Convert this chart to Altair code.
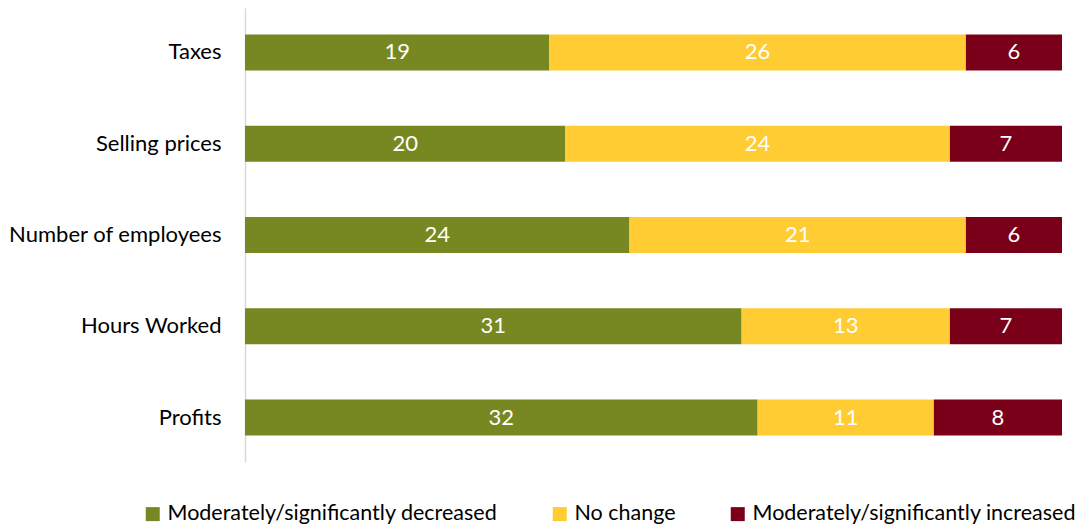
import altair as alt
import pandas as pd

categories = ["Taxes", "Selling prices", "Number of employees", "Hours Worked", "Profits"]
series = ["Moderately/significantly decreased", "No change", "Moderately/significantly increased"]
decreased = [19, 20, 24, 31, 32]
no_change = [26, 24, 21, 13, 11]
increased = [6, 7, 6, 7, 8]
colors = ["#778822", "#FFCC33", "#7A001A"]

rows = []
for i, c in enumerate(categories):
    for j, (s, vals) in enumerate(zip(series, [decreased, no_change, increased])):
        rows.append({"category": c, "series": s, "value": vals[i], "order": j})
df = pd.DataFrame(rows)

FONT = "Lato"
FS = 22

base = alt.Chart(df).transform_stack(
    stack="value", groupby=["category"], sort=[alt.SortField("order")], as_=["x0", "x1"]
).transform_calculate(mid="(datum.x0 + datum.x1) / 2")

yenc = alt.Y(
    "category:N",
    sort=categories,
    title=None,
    scale=alt.Scale(paddingInner=0.605, paddingOuter=0.29),
    axis=alt.Axis(
        ticks=False,
        labelPadding=24,
        labelFontSize=FS,
        labelFont=FONT,
        labelColor="#000000",
        domainColor="#d9d9d9",
        domainWidth=1.5,
        grid=False,
        labelLimit=400,
    ),
)

xscale = alt.Scale(domain=[0, 51], nice=False, zero=True)

bars = base.mark_bar().encode(
    x=alt.X("x0:Q", scale=xscale, axis=None),
    x2="x1:Q",
    y=yenc,
    color=alt.Color(
        "series:N",
        scale=alt.Scale(domain=series, range=colors),
        legend=alt.Legend(
            title=None,
            orient="none",
            direction="horizontal",
            legendX=-103,
            legendY=495,
            symbolType="square",
            symbolSize=196,
            symbolStrokeWidth=0,
            labelFontSize=21.5,
            labelFont=FONT,
            labelColor="#000000",
            columnPadding=51,
            labelOffset=4,
            labelLimit=500,
        ),
    ),
)

labels = base.mark_text(color="white", fontSize=FS, font=FONT).encode(
    x=alt.X("mid:Q", scale=xscale, axis=None),
    y=alt.Y("category:N", sort=categories),
    text="value:Q",
)

chart = (
    alt.layer(bars, labels)
    .properties(
        width=817,
        height=454,
        background="white",
        autosize=alt.AutoSizeParams(type="none"),
        padding={"left": 237, "top": 0, "right": 22, "bottom": 67},
    )
    .configure_view(strokeWidth=0, stroke=None)
)

chart.save("out.html", embed_options={"renderer": "svg", "actions": False})
